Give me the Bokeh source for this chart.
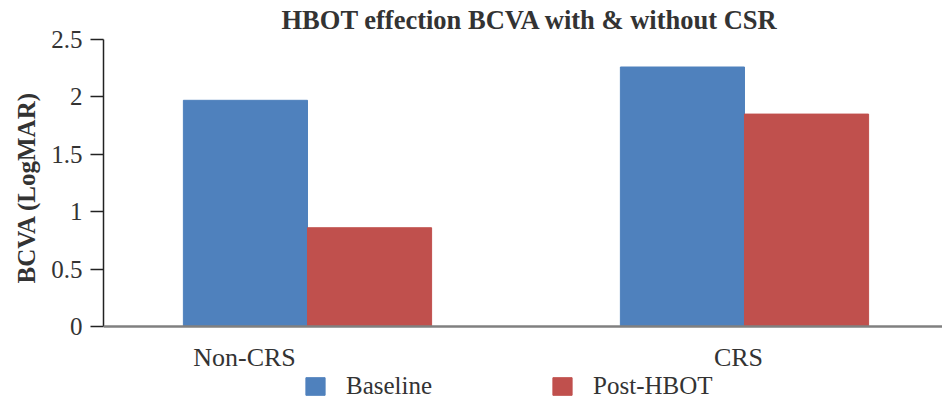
from bokeh.plotting import figure
from bokeh.models import (Range1d, FixedTicker, Span, Legend, LegendItem,
                          ColumnDataSource, Title)
from bokeh.core.properties import value
from bokeh.embed import file_html
from bokeh.resources import INLINE

# ---- data ----
categories = ["Non-CRS", "CRS"]
baseline = [1.97, 2.26]
post_hbot = [0.86, 1.85]
series_names = ["Baseline", "Post-HBOT"]
y_ticks = [0, 0.5, 1, 1.5, 2, 2.5]
y_tick_labels = ["0", "0.5", "1", "1.5", "2", "2.5"]
title_text = "HBOT effection BCVA with & without CSR"
y_title = "BCVA (LogMAR)"

# ---- style ----
BLUE = "#4F81BD"
RED = "#C0504D"
TXT = "#333333"
SERIF = "Liberation Serif"
BAR_W = 0.284

centers = [i + 0.5 for i in range(len(categories))]

p = figure(width=942, height=400, output_backend="svg", toolbar_location=None,
           x_axis_location=None,
           x_range=Range1d(0.0332, 1.9531), y_range=Range1d(-0.6446, 2.517),
           min_border_left=103, min_border_right=0, min_border_bottom=0,
           min_border_top=0)

p.title.text = title_text
p.title.align = "left"
p.title.offset = 178
p.title.text_font = SERIF
p.title.text_font_size = "26.5px"
p.title.text_font_style = "bold"
p.title.text_color = TXT
p.title.standoff = 5

src = ColumnDataSource(dict(
    x_base=[c - BAR_W / 2 for c in centers],
    x_post=[c + BAR_W / 2 for c in centers],
    baseline=baseline, post=post_hbot))

r1 = p.vbar(x="x_base", top="baseline", bottom=0, width=BAR_W, source=src,
            fill_color=BLUE, line_color=BLUE)
r2 = p.vbar(x="x_post", top="post", bottom=0, width=BAR_W, source=src,
            fill_color=RED, line_color=RED)

p.add_layout(Span(location=0, dimension="width", line_color="#808080",
                  line_width=2.5))

# category labels
lab_src = ColumnDataSource(dict(x=centers, y=[0] * len(categories),
                                text=categories, xo=[-63, -6]))
p.text(x="x", y="y", text="text", source=lab_src, x_offset="xo", y_offset=31,
       text_align="center", text_baseline="middle",
       text_font=value(SERIF), text_font_size="26px", text_color=TXT)

# axes
p.xgrid.visible = False
p.ygrid.visible = False
p.outline_line_color = None

ya = p.yaxis[0]
ya.ticker = FixedTicker(ticks=y_ticks)
ya.major_label_overrides = {t: l for t, l in zip(y_ticks, y_tick_labels)}
ya.bounds = (min(y_ticks), max(y_ticks))
ya.major_label_text_font = SERIF
ya.major_label_text_font_size = "25px"
ya.major_label_text_color = TXT
ya.major_label_standoff = 8
ya.major_tick_out = 13
ya.major_tick_in = 0
ya.minor_tick_out = 0
ya.minor_tick_in = 0
ya.axis_line_color = "#222222"
ya.axis_line_width = 1.5
ya.major_tick_line_color = "#222222"
ya.major_tick_line_width = 1.5

# y-axis title as a side title, placed along the axis' own extent
p.add_layout(Title(text=y_title, align="left", offset=117, standoff=18,
                   text_font=SERIF, text_font_size="25px",
                   text_font_style="bold", text_color=TXT), "left")

legend = Legend(items=[LegendItem(label=series_names[0], renderers=[r1]),
                       LegendItem(label=series_names[1], renderers=[r2])],
                location=(200, 0), orientation="horizontal",
                glyph_width=24, glyph_height=22, label_height=22,
                label_standoff=19, spacing=118,
                label_text_font=SERIF, label_text_font_size="25px",
                label_text_color=TXT, label_text_baseline="middle",
                padding=0, margin=0, border_line_alpha=0,
                background_fill_alpha=0)
p.add_layout(legend)

open("out.html", "w").write(file_html(p, INLINE))
